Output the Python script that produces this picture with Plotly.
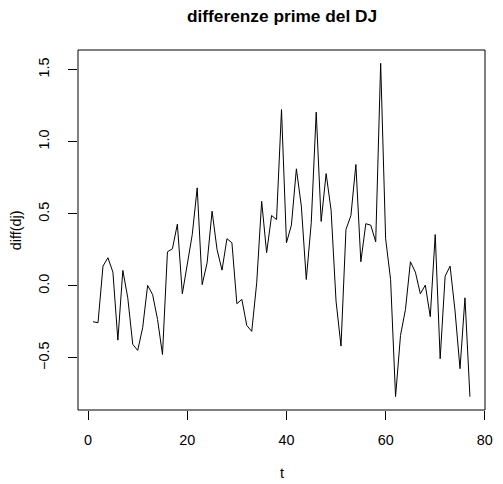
import plotly.graph_objects as go

t = list(range(1, 78))
diff_dj = [
    -0.249, -0.256, 0.137, 0.195, 0.095, -0.377, 0.107, -0.083, -0.406, -0.448,
    -0.291, 0.003, -0.060, -0.233, -0.476, 0.236, 0.257, 0.428, -0.055, 0.160,
    0.356, 0.680, 0.008, 0.160, 0.518, 0.252, 0.109, 0.327, 0.299, -0.124,
    -0.094, -0.275, -0.316, 0.021, 0.587, 0.230, 0.488, 0.460, 1.223, 0.299,
    0.421, 0.812, 0.553, 0.044, 0.438, 1.205, 0.447, 0.779, 0.525, -0.106,
    -0.418, 0.391, 0.488, 0.842, 0.167, 0.431, 0.421, 0.306, 1.544, 0.327,
    0.044, -0.769, -0.344, -0.164, 0.167, 0.095, -0.055, 0.005, -0.214, 0.356,
    -0.506, 0.067, 0.137, -0.175, -0.575, -0.083, -0.769,
]
x_ticks = [0, 20, 40, 60, 80]
y_ticks = [-0.5, 0.0, 0.5, 1.0, 1.5]
y_tick_text = ["\u22120.5", "0.0", "0.5", "1.0", "1.5"]

title = "differenze prime del DJ"
x_label = "t"
y_label = "diff(dj)"

def r_range(v):
    lo, hi = min(v), max(v)
    pad = 0.04 * (hi - lo)
    return [lo - pad, hi + pad]

FONT = "Liberation Sans, Arial, Helvetica, sans-serif"
OFF = 8  # default page body margin
W, H = 503 - OFF, 484 - OFF
ml, mr, mt, mb = 78 - OFF, 10, 50 - OFF, 74
ph = H - mt - mb
pw = W - ml - mr

def py(page_y):
    return (H - mb - (page_y - OFF)) / ph

def px(page_x):
    return ((page_x - OFF) - ml) / pw

fig = go.Figure()
fig.add_trace(go.Scatter(x=t, y=diff_dj, mode="lines",
                         line=dict(color="black", width=1), showlegend=False,
                         hoverinfo="x+y"))

axis_common = dict(showgrid=False, zeroline=False, showline=False,
                   ticks="outside", ticklen=9, tickwidth=1, tickcolor="black",
                   ticklabeloverflow="allow",
                   tickfont=dict(family=FONT, size=14.4, color="black"))

fig.update_layout(
    width=W, height=H,
    margin=dict(l=ml, r=mr, t=mt, b=mb),
    paper_bgcolor="white", plot_bgcolor="white",
    xaxis=dict(range=r_range(t), tickvals=x_ticks, ticklabelstandoff=8, **axis_common),
    yaxis=dict(range=r_range(diff_dj), tickvals=y_ticks, ticktext=y_tick_text,
               tickangle=-90, ticklabelstandoff=13, **axis_common),
    shapes=[dict(type="rect", xref="paper", yref="paper", x0=0, y0=0, x1=1, y1=1,
                 line=dict(color="black", width=1))],
    annotations=[
        dict(text="<b>" + title + "</b>", xref="paper", yref="paper",
             x=0.5, y=py(16), showarrow=False,
             font=dict(family=FONT, size=17.3, color="black"),
             xanchor="center", yanchor="middle"),
        dict(text=x_label, xref="paper", yref="paper",
             x=0.5, y=py(483), showarrow=False,
             font=dict(family=FONT, size=14.4, color="black"),
             xanchor="center", yanchor="bottom"),
        dict(text=y_label, xref="paper", yref="paper",
             x=px(15), y=0.5, showarrow=False, textangle=-90,
             font=dict(family=FONT, size=14.4, color="black"),
             xanchor="center", yanchor="middle"),
    ],
)

fig.write_html("out.html")
